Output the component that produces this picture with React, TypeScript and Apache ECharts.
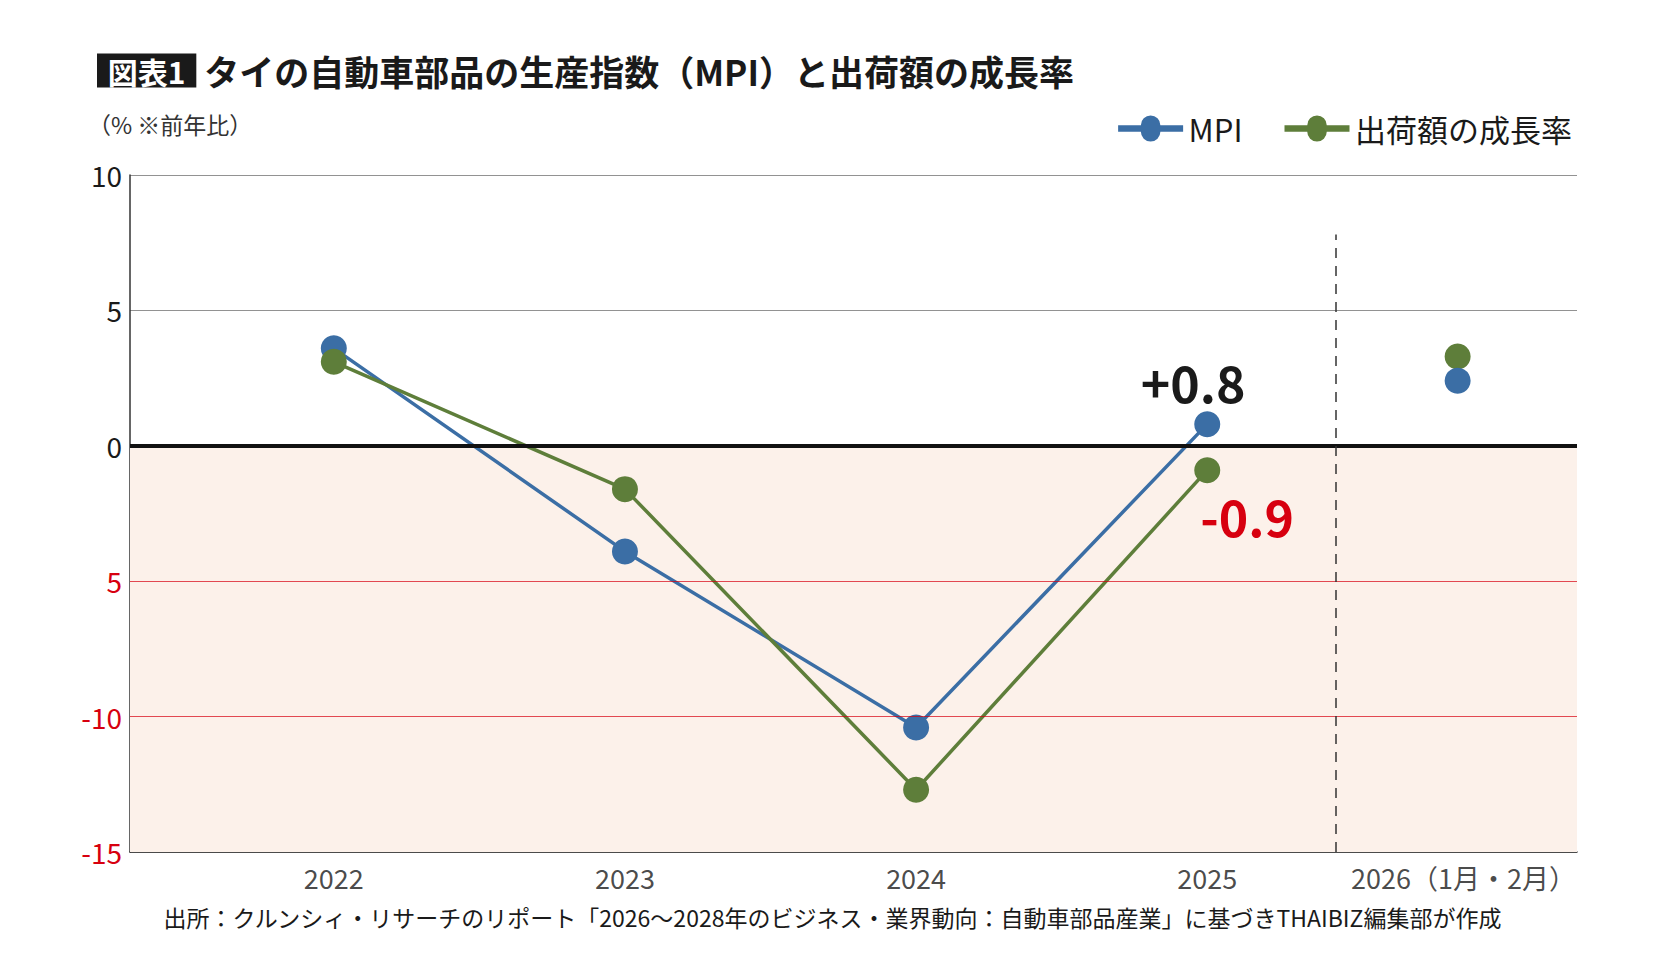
import React, { useRef, useEffect } from 'react';
import * as echarts from 'echarts';

const years = [2022, 2023, 2024, 2025];
const yearLabels = ['2022', '2023', '2024', '2025'];
const partialX = 2025.86;
const partialLabel = '2026（1月・2月）';
const mpi = [3.6, -3.9, -10.4, 0.8];
const shipments = [3.1, -1.6, -12.7, -0.9];
const mpi2026 = 2.4;
const shipments2026 = 3.3;
const yTicks = [-15, -10, -5, 0, 5, 10];

const BLUE = '#3b6ea5';
const GREEN = '#5e7e3a';
const RED = '#d7000f';
const FONT = '"Noto Sans CJK JP", "Noto Sans", sans-serif';

const App: React.FC = () => {
  const ref = useRef<HTMLDivElement>(null);

  useEffect(() => {
    document.body.style.margin = '0';
    if (!ref.current) return;
    const chart = echarts.init(ref.current, null, { renderer: 'svg' });

    const label2025 = (text: string, color: string, offset: number[], pos: string) => ({
      show: true,
      position: pos,
      offset,
      formatter: text,
      color,
      fontSize: 50,
      fontWeight: 'bold',
      fontFamily: FONT,
    });

    chart.setOption({
      animation: false,
      textStyle: { fontFamily: FONT },
      title: {
        text: '{box| 図表1 } タイの自動車部品の生産指数（MPI）と出荷額の成長率',
        left: 92,
        top: 48,
        textStyle: {
          fontSize: 35,
          fontWeight: 'bold',
          color: '#1a1a1a',
          fontFamily: FONT,
          rich: {
            box: { backgroundColor: '#1a1a1a', color: '#fff', fontSize: 30, fontWeight: 'bold', padding: [2, 4] },
          },
        },
      },
      legend: {
        data: ['MPI', '出荷額の成長率'],
        right: 89,
        top: 108,
        itemWidth: 66,
        itemHeight: 26,
        itemGap: 42,
        icon: 'path://M0,45 L35,45 A15,15 0 1,1 65,45 L100,45 L100,55 L65,55 A15,15 0 1,1 35,55 L0,55 Z',
        textStyle: { fontSize: 31, color: '#1a1a1a', fontFamily: FONT },
      },
      graphic: [
        {
          type: 'text',
          left: 88,
          top: 112,
          style: { text: '（% ※前年比）', fontSize: 23, fill: '#333', fontFamily: FONT },
        },
        {
          type: 'text',
          left: 'center',
          top: 905,
          style: {
            text: '出所：クルンシィ・リサーチのリポート「2026〜2028年のビジネス・業界動向：自動車部品産業」に基づきTHAIBIZ編集部が作成',
            fontSize: 23,
            fill: '#1a1a1a',
            fontFamily: FONT,
          },
        },
      ],
      grid: { left: 130, right: 89, top: 175, bottom: 127 },
      xAxis: {
        type: 'value',
        min: 2021.3,
        max: 2026.27,
        axisLabel: { show: false },
        axisTick: { show: false },
        splitLine: { show: false },
        axisLine: { show: true, onZero: false, lineStyle: { color: '#333', width: 1.5 } },
      },
      yAxis: {
        type: 'value',
        min: yTicks[0],
        max: yTicks[yTicks.length - 1],
        interval: 5,
        axisLine: { show: true, lineStyle: { color: '#333', width: 1.5 } },
        axisTick: { show: false },
        axisLabel: {
          fontSize: 28,
          margin: 8,
          fontFamily: FONT,
          formatter: (v: number) => (v === -5 ? '5' : String(v)),
          color: (v: number) => (v < 0 ? RED : '#1a1a1a'),
        },
        splitLine: {
          show: true,
          lineStyle: { color: '#777', width: 1, opacity: 0.8 },
        },
      },
      series: [
        {
          name: 'bg',
          type: 'line',
          data: [],
          markArea: {
            silent: true,
            itemStyle: { color: '#fcf1ea' },
            data: [[{ yAxis: 0 }, { yAxis: -15 }]],
          },
          markLine: {
            silent: true,
            symbol: 'none',
            label: { show: false },
            data: [
              { yAxis: -5, lineStyle: { color: RED, width: 1, type: 'solid', opacity: 0.7 } },
              { yAxis: -10, lineStyle: { color: RED, width: 1, type: 'solid', opacity: 0.7 } },
              { yAxis: 0, lineStyle: { color: '#111', width: 4, type: 'solid' } },
              [
                { coord: [2025.44, -15], lineStyle: { color: '#333', width: 1.5, type: [10, 8] } },
                { coord: [2025.44, 7.8] },
              ],
            ],
          },
        },
        {
          name: 'MPI',
          type: 'line',
          color: BLUE,
          symbol: 'circle',
          symbolSize: 26,
          lineStyle: { width: 3.5 },
          data: years.map((y, i) => ({
            value: [y, mpi[i]],
            label: i === 3 ? label2025('+0.8', '#1a1a1a', [-14, 0], 'top') : { show: false },
          })),
          z: 3,
        },
        {
          name: '出荷額の成長率',
          type: 'line',
          color: GREEN,
          symbol: 'circle',
          symbolSize: 26,
          lineStyle: { width: 3.5 },
          data: years.map((y, i) => ({
            value: [y, shipments[i]],
            label: i === 3 ? label2025('-0.9', RED, [40, 2], 'bottom') : { show: false },
          })),
          z: 3,
        },
        {
          type: 'scatter',
          color: GREEN,
          symbolSize: 26,
          itemStyle: { opacity: 1 },
          data: [[partialX, shipments2026]],
          z: 3,
        },
        {
          type: 'scatter',
          color: BLUE,
          symbolSize: 26,
          itemStyle: { opacity: 1 },
          data: [[partialX, mpi2026]],
          z: 4,
        },
        {
          type: 'scatter',
          symbolSize: 0,
          silent: true,
          data: [...years.map((y, i) => ({ value: [y, -15], name: yearLabels[i] })), { value: [partialX + 0.02, -15], name: partialLabel }],
          label: {
            show: true,
            position: 'bottom',
            distance: 12,
            formatter: '{b}',
            fontSize: 27,
            color: '#1a1a1a',
            fontFamily: FONT,
          },
        },
      ],
    });

    return () => chart.dispose();
  }, []);

  return <div ref={ref} style={{ width: 1666, height: 979, background: '#fff' }} />;
};

export default App;
